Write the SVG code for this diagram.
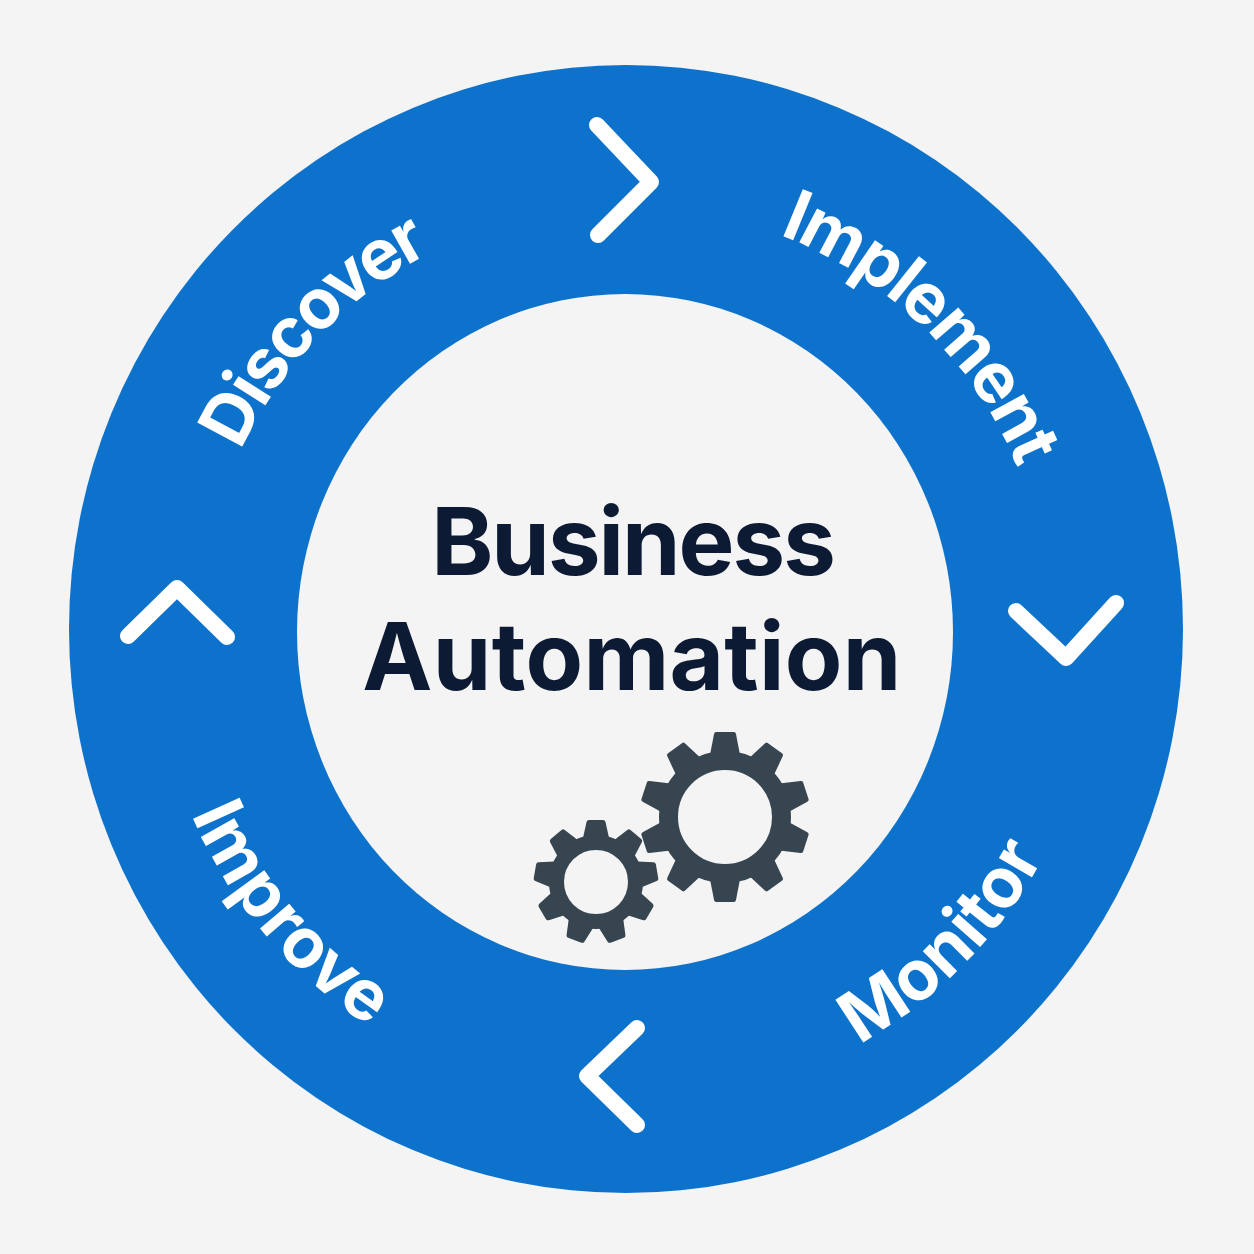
<svg xmlns="http://www.w3.org/2000/svg" width="1254" height="1254" viewBox="0 0 1254 1254">
<style>
.lbl{font-family:"Inter","Liberation Sans",sans-serif;font-weight:650;fill:#fff;font-size:70px;text-anchor:middle}
.ttl{font-family:"Inter","Liberation Sans",sans-serif;font-weight:650;fill:#0c1a33;font-size:94px;text-anchor:middle}
.chev{fill:none;stroke:#fff;stroke-width:16;stroke-linecap:round;stroke-linejoin:round}
.gear{fill:#36454f}
</style>
<defs>
<path id="p1" d="M212.5 532.2A425 425 0 0 1 504 223"/>
<path id="p2" d="M732 219.5A424 424 0 0 1 1034.7 516.8"/>
<path id="p3" d="M792 1075A475 475 0 0 0 1074 789"/>
<path id="p4" d="M162.5 720A472 472 0 0 0 441.5 1064.6"/>
<path id="tb" d="M-15 -62L-11 -83Q-10.500 -85 -9 -85L9 -85Q10.500 -85 11 -83L15 -62Z"/>
<path id="ts" d="M-13 -44L-9.500 -60Q-9 -62 -7 -62L7 -62Q9 -62 9.500 -60L13 -44Z"/>
</defs>
<rect width="1254" height="1254" fill="#f4f4f4"/>
<g id="ring">
<ellipse cx="626" cy="629" rx="557" ry="564" fill="#0d72cb"/>
<ellipse cx="625" cy="632" rx="328" ry="338" fill="#f4f4f4"/>
</g>
<g id="connectors">
<path class="chev" d="M597 125L651 182L598 235"/>
<path class="chev" d="M1016 611L1066 658L1116 603"/>
<path class="chev" d="M637 1028L587 1076L637 1125"/>
<path class="chev" d="M128 636L177 588L227 637"/>
</g>
<g id="discover"><text class="lbl" letter-spacing="-3.200"><textPath href="#p1" startOffset="50.500%">Discover</textPath></text></g>
<g id="implement"><text class="lbl" letter-spacing="-2.500"><textPath href="#p2" startOffset="49.500%">Implement</textPath></text></g>
<g id="monitor"><text class="lbl"><textPath href="#p3" startOffset="50%">Monitor</textPath></text></g>
<g id="improve"><text class="lbl" letter-spacing="0.500"><textPath href="#p4" startOffset="52%">Improve</textPath></text></g>
<g id="center">
<text class="ttl" x="632.500" y="575" letter-spacing="-2">Business</text>
<text class="ttl" x="632" y="690" letter-spacing="0.300">Automation</text>
</g>
<g id="gear-large" class="gear" transform="translate(725 817)">
<circle r="56.500" fill="none" stroke="#36454f" stroke-width="19"/>
<use href="#tb"/><use href="#tb" transform="rotate(36)"/><use href="#tb" transform="rotate(72)"/><use href="#tb" transform="rotate(108)"/><use href="#tb" transform="rotate(144)"/><use href="#tb" transform="rotate(180)"/><use href="#tb" transform="rotate(216)"/><use href="#tb" transform="rotate(252)"/><use href="#tb" transform="rotate(288)"/><use href="#tb" transform="rotate(324)"/>
</g>
<g id="gear-small" class="gear" transform="translate(596 882)">
<circle r="39.500" fill="none" stroke="#36454f" stroke-width="15"/>
<use href="#ts"/><use href="#ts" transform="rotate(40)"/><use href="#ts" transform="rotate(80)"/><use href="#ts" transform="rotate(120)"/><use href="#ts" transform="rotate(160)"/><use href="#ts" transform="rotate(200)"/><use href="#ts" transform="rotate(240)"/><use href="#ts" transform="rotate(280)"/><use href="#ts" transform="rotate(320)"/>
</g>
</svg>
